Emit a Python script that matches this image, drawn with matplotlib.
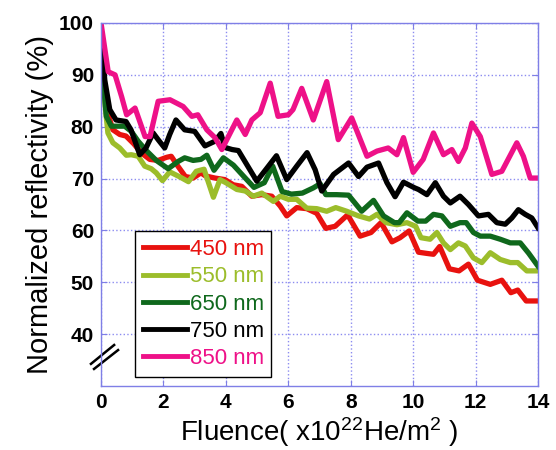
import numpy as np
import matplotlib.pyplot as plt

# ============================================================
# Data
# ============================================================

x_450 = [0, 0.1, 0.2, 0.38, 0.6, 0.8, 1.05, 1.3, 1.56, 1.83, 2.1, 2.25, 2.45, 2.7,
         2.95, 3.2, 3.35, 3.65, 3.97, 4.24, 4.51, 4.83, 5.15, 5.47, 5.74, 5.95, 6.27,
         6.59, 6.91, 7.2, 7.5, 7.9, 8.3, 8.65, 8.97, 9.32, 9.58, 9.87, 10.17, 10.4,
         10.65, 10.85, 11.16, 11.47, 11.77, 12.06, 12.47, 12.84, 13.13, 13.35, 13.62, 14]
r_450 = [97, 88, 83, 79.4, 78.5, 78.2, 76.7, 74.9, 73.7, 73.5, 74.1, 74.3, 72.5, 70.4,
         70.1, 71.1, 70.5, 70.1, 69.8, 68.8, 68.5, 66.6, 66.9, 66.6, 64.7, 62.8, 64.4,
         64.2, 63.3, 60.4, 60.8, 63.0, 58.9, 59.6, 61.5, 57.8, 58.6, 59.9, 55.8, 55.6,
         55.4, 56.9, 52.6, 52.2, 53.5, 50.4, 49.6, 50.4, 48.0, 48.5, 46.4, 46.4]

x_550 = [0, 0.1, 0.22, 0.38, 0.6, 0.81, 0.97, 1.19, 1.4, 1.61, 1.77, 1.97, 2.2, 2.5,
         2.8, 3.05, 3.3, 3.6, 3.81, 4.0, 4.35, 4.62, 4.88, 5.15, 5.52, 5.74, 6.0, 6.27,
         6.59, 6.91, 7.23, 7.52, 7.87, 8.25, 8.6, 8.84, 9.13, 9.48, 9.8, 10.08, 10.25,
         10.54, 10.76, 10.97, 11.19, 11.45, 11.67, 11.93, 12.2, 12.47, 12.79, 13.11,
         13.35, 13.64, 14]
r_550 = [97, 86, 78.8, 76.9, 75.9, 74.5, 74.6, 74.3, 72.4, 71.9, 71.1, 69.6, 71.3, 70.4,
         69.4, 71.4, 71.8, 66.4, 69.8, 69.2, 67.9, 67.6, 66.6, 67.2, 65.6, 66.6, 66.0, 66.0,
         64.3, 64.2, 63.7, 64.4, 63.7, 62.8, 62.2, 63.1, 61.5, 61.1, 61.5, 60.8, 58.6,
         58.3, 59.6, 57.6, 56.3, 57.6, 57.0, 54.7, 53.8, 55.7, 54.4, 53.8,
         53.8, 52.2, 52.2]

x_650 = [0, 0.08, 0.17, 0.33, 0.54, 0.76, 0.97, 1.19, 1.45, 1.77, 2.15, 2.47, 2.68, 2.95,
         3.2, 3.39, 3.62, 3.92, 4.24, 4.56, 4.9, 5.23, 5.5, 5.8, 6.1, 6.45, 6.8, 7.02,
         7.2, 7.55, 7.93, 8.35, 8.73, 9.05, 9.4, 9.55, 9.8, 10.15, 10.4, 10.65, 10.92,
         11.19, 11.5, 11.7, 11.93, 12.15, 12.47, 12.79, 13.11, 13.43, 13.7, 14]
r_650 = [97, 88, 82, 80.1, 80.1, 80.1, 79.1, 77.2, 75.4, 73.5, 71.9, 73.3, 74.0, 73.5,
         73.7, 74.5, 71.6, 74.0, 72.6, 70.5, 68.3, 69.2, 72.4, 67.5, 67.0, 67.2, 68.2, 69.0,
         66.9, 66.9, 66.8, 63.7, 65.8, 62.8, 61.5, 61.5, 63.4, 61.8, 61.8, 63.1, 62.8,
         60.8, 61.5, 61.5, 59.6, 58.9, 58.9, 58.3, 57.6, 57.6, 55.6, 53.1]

x_750 = [0, 0.12, 0.28, 0.48, 0.8, 0.96, 1.24, 1.44, 1.67, 1.83, 2.04, 2.2, 2.4, 2.68,
         3.0, 3.33, 3.65, 3.84, 3.97, 4.2, 4.4, 4.67, 4.99, 5.3, 5.62, 5.95, 6.27, 6.6,
         6.86, 7.07, 7.45, 7.93, 8.25, 8.52, 8.89, 9.16, 9.42, 9.69, 10.05, 10.17, 10.44,
         10.71, 10.97, 11.19, 11.5, 11.77, 12.09, 12.41, 12.68, 12.95, 13.16, 13.37,
         13.59, 13.8, 14]
r_750 = [98, 89, 83.3, 81.3, 81.0, 79.4, 74.6, 75.9, 78.8, 77.5, 75.9, 78.5, 81.3, 79.4,
         79.1, 76.3, 77.2, 78.7, 76.0, 75.6, 75.4, 72.7, 69.5, 71.9, 74.4, 69.8, 72.4, 75.0,
         71.7, 67.6, 70.8, 73.0, 70.4, 72.2, 73.0, 69.2, 66.5, 69.3, 68.2, 67.9, 66.9,
         69.2, 66.6, 65.3, 66.6, 65.0, 62.8, 63.1, 61.5, 61.2, 62.4, 64.0,
         63.1, 62.4, 60.5]

x_850 = [0, 0.23, 0.45, 0.66, 0.82, 1.09, 1.41, 1.57, 1.83, 2.21, 2.63, 2.91, 3.1, 3.39,
         3.65, 3.87, 4.08, 4.35, 4.62, 4.83, 5.1, 5.42, 5.67, 6.0, 6.15, 6.43, 6.8, 7.23,
         7.6, 8.03, 8.52, 8.84, 9.2, 9.48, 9.69, 10.0, 10.32, 10.65, 10.97, 11.24, 11.45,
         11.67, 11.88, 12.15, 12.52, 12.84, 13.32, 13.53, 13.75, 14]
r_850 = [100, 90.6, 90.0, 85.8, 82.3, 83.6, 78.1, 78.1, 84.9, 85.2, 83.9, 82.0, 82.3, 79.4,
         77.9, 75.6, 78.1, 81.3, 78.5, 81.3, 82.7, 88.4, 82.0, 82.3, 83.3, 87.4, 81.3, 88.7,
         77.5, 81.7, 74.3, 75.3, 75.9, 74.6, 77.9, 71.2, 73.7, 78.8, 74.6, 75.6, 73.3,
         75.9, 80.7, 78.1, 70.8, 71.4, 76.9, 74.3, 70.1, 70.1]

labels = ["450 nm", "550 nm", "650 nm", "750 nm", "850 nm"]
colors = ["#e8120f", "#9cbd2b", "#0f681c", "#000000", "#ee1188"]

# ============================================================
# Plot
# ============================================================

plt.rcParams['font.family'] = ['Liberation Sans', 'DejaVu Sans']
plt.rcParams['mathtext.default'] = 'regular'

axis_blue = "#7f7fe6"

fig = plt.figure(figsize=(5.56, 4.5), dpi=100)
ax = fig.add_axes([0.1817, 0.1422, 0.786, 0.8067])

series = [(x_450, r_450), (x_550, r_550), (x_650, r_650), (x_750, r_750), (x_850, r_850)]
for (xs, ys), lab, col in zip(series, labels, colors):
    ax.plot(xs, ys, color=col, linewidth=3.8, label=lab, solid_joinstyle='round')

ax.set_xlim(0, 14)
ax.set_ylim(30, 100)
ax.set_xticks(np.arange(0, 15, 2))
ax.set_yticks(np.arange(40, 101, 10))

ax.grid(True, linestyle=':', color="#8c8cf0", linewidth=1.0)
for sp in ax.spines.values():
    sp.set_color(axis_blue)
    sp.set_linewidth(1.0)
ax.tick_params(direction='in', length=4, color=axis_blue, top=True, right=True,
               labelsize=15, pad=5)
for t in ax.get_xticklabels() + ax.get_yticklabels():
    t.set_fontweight('bold')

ax.set_xlabel(r"Fluence( x10$^{22}$He/m$^{2}$ )", fontsize=20, labelpad=2)
ax.set_ylabel("Normalized reflectivity (%)", fontsize=21, labelpad=4)

# axis break mark on the left spine
ax.plot([-0.023, 0.030], [0.061, 0.113], color='black', lw=1.8,
        transform=ax.transAxes, clip_on=False)
ax.plot([-0.016, 0.039], [0.047, 0.099], color='black', lw=1.8,
        transform=ax.transAxes, clip_on=False)

leg = ax.legend(loc='lower left', bbox_to_anchor=(0.078, 0.025), borderaxespad=0,
                fontsize=16, frameon=True, fancybox=False, framealpha=1,
                edgecolor='black', handlelength=2.0, handletextpad=0.1,
                labelspacing=0.28, borderpad=0.35)
leg.get_frame().set_linewidth(1.0)
for txt, col in zip(leg.get_texts(), colors):
    txt.set_color(col)
for ln in leg.get_lines():
    ln.set_linewidth(3.5)

fig.savefig("out.png", dpi=100)
